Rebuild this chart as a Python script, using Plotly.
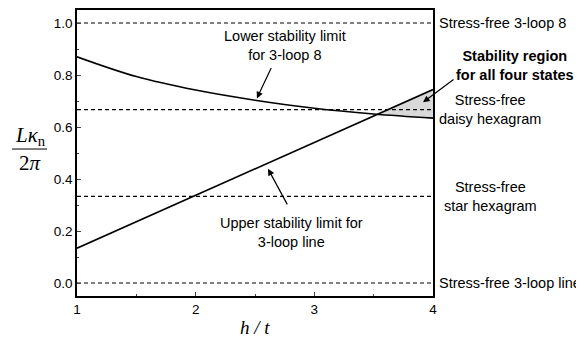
import numpy as np
import plotly.graph_objects as go

# Lower stability limit for 3-loop 8 (curve)
lower_x = [1.0, 1.5, 2.0, 2.5, 3.0, 3.5, 4.0]
lower_y = [0.870, 0.794, 0.742, 0.703, 0.672, 0.650, 0.634]
# Upper stability limit for 3-loop line (straight)
upper_x = [1.0, 2.0, 3.0, 4.0]
upper_y = [0.134, 0.337, 0.541, 0.744]
# Stress-free levels
stress_levels = [0.0, 1/3, 2/3, 1.0]
stress_labels = ["Stress-free 3-loop line", "Stress-free<br>star hexagram",
                 "Stress-free<br>daisy hexagram", "Stress-free 3-loop 8"]
x_ticks = [1, 2, 3, 4]
y_ticks = [0.0, 0.2, 0.4, 0.6, 0.8, 1.0]

SANS = "Liberation Sans, Arial, sans-serif"
SERIF = "Liberation Serif, Times New Roman, serif"
FS = 14.5

fig = go.Figure()

# shaded stability region (between upper line and lower curve where line > curve)
grid = np.linspace(1, 4, 601)
diff = np.interp(grid, upper_x, upper_y) - np.interp(grid, lower_x, lower_y)
mask = diff >= 0
xs = grid[mask]
top = np.interp(xs, upper_x, upper_y)
bot = np.interp(xs, lower_x, lower_y)
fig.add_trace(go.Scatter(x=np.concatenate([xs, xs[::-1]]),
                         y=np.concatenate([top, bot[::-1]]),
                         fill="toself", fillcolor="#d9d9d9",
                         line=dict(width=0), mode="lines", hoverinfo="skip",
                         showlegend=False))

for lv in stress_levels:
    fig.add_trace(go.Scatter(x=[1, 4], y=[lv, lv], mode="lines",
                             line=dict(color="black", width=1.1, dash="4px,3px"),
                             showlegend=False))

fig.add_trace(go.Scatter(x=lower_x, y=lower_y, mode="lines", line_shape="spline",
                         line=dict(color="black", width=1.6), showlegend=False))
fig.add_trace(go.Scatter(x=upper_x, y=upper_y, mode="lines",
                         line=dict(color="black", width=1.6), showlegend=False))

ann = []
# right-side labels
for lv, lab in zip(stress_levels, stress_labels):
    if "<br>" in lab:
        ann.append(dict(xref="paper", yref="y", x=1, y=lv, text=lab, showarrow=False,
                        xanchor="center", yanchor="middle", xshift=57, align="center",
                        font=dict(family=SANS, size=FS, color="black")))
    else:
        ann.append(dict(xref="paper", yref="y", x=1, y=lv, text=lab, showarrow=False,
                        xanchor="left", yanchor="middle", xshift=4,
                        font=dict(family=SANS, size=FS, color="black")))

ann.append(dict(x=2.75, y=0.913, text="Lower stability limit<br>for 3-loop 8", showarrow=False,
                align="center", xanchor="center", yanchor="middle",
                font=dict(family=SANS, size=FS, color="black")))
ann.append(dict(x=2.81, y=0.195, text="Upper stability limit for<br>3-loop line", showarrow=False,
                align="center", xanchor="center", yanchor="middle",
                font=dict(family=SANS, size=FS, color="black")))
ann.append(dict(xref="paper", yref="paper", x=1, y=(296-64)/288, xshift=82,
                xanchor="center", yanchor="middle",
                text="<b>Stability region<br>for all four states</b>", showarrow=False,
                align="center", font=dict(family=SANS, size=FS, color="black")))

# arrows
for (tx, ty, axp, ayp) in [(2.516, 0.71, 15, -32), (2.61, 0.439, 20, 37), (3.916, 0.695, 32, -24)]:
    ann.append(dict(x=tx, y=ty, ax=axp, ay=ayp, text="", showarrow=True,
                    arrowhead=2, arrowsize=1.1, arrowwidth=1.2, arrowcolor="black"))

# axis titles
ann.append(dict(xref="paper", yref="paper", x=(30-77)/356, y=(296-135)/288,
                xanchor="center", yanchor="middle",
                text="<i>Lκ</i><sub>n</sub>", showarrow=False,
                font=dict(family=SERIF, size=21, color="black")))
ann.append(dict(xref="paper", yref="paper", x=(30-77)/356, y=(296-162)/288,
                xanchor="center", yanchor="middle",
                text="2<i>π</i>", showarrow=False,
                font=dict(family=SERIF, size=21, color="black")))
ann.append(dict(xref="paper", yref="paper", x=0.5, y=(296-328)/288,
                xanchor="center", yanchor="middle",
                text="<i>h / t</i>", showarrow=False,
                font=dict(family=SERIF, size=19, color="black")))

shapes = [dict(type="line", xref="paper", yref="paper",
               x0=(12-77)/356, x1=(47-77)/356, y0=(296-148)/288, y1=(296-148)/288,
               line=dict(color="black", width=1))]

# page body has an 8px margin; offset margins so the plot area lands where the reference has it
fig.update_layout(
    width=584, height=340,
    margin=dict(l=69, r=159, t=0, b=52),
    plot_bgcolor="white", paper_bgcolor="white",
    annotations=ann, shapes=shapes,
    xaxis=dict(range=[1, 4], tickvals=x_ticks, ticks="inside", ticklen=4, tickwidth=1,
               showline=True, linewidth=1.5, linecolor="black", mirror=True,
               showgrid=False, zeroline=False,
               minor=dict(ticks="inside", ticklen=2, dtick=0.5, tick0=1, showgrid=False),
               tickfont=dict(family=SANS, size=13.5, color="black")),
    yaxis=dict(range=[-0.05, 1.05], tickvals=y_ticks, tickformat=".1f",
               ticks="inside", ticklen=4, tickwidth=1,
               showline=True, linewidth=1.5, linecolor="black", mirror=True,
               showgrid=False, zeroline=False,
               minor=dict(ticks="inside", ticklen=2, dtick=0.1, tick0=0, showgrid=False),
               tickfont=dict(family=SANS, size=13.5, color="black")),
)

fig.write_html("out.html")
